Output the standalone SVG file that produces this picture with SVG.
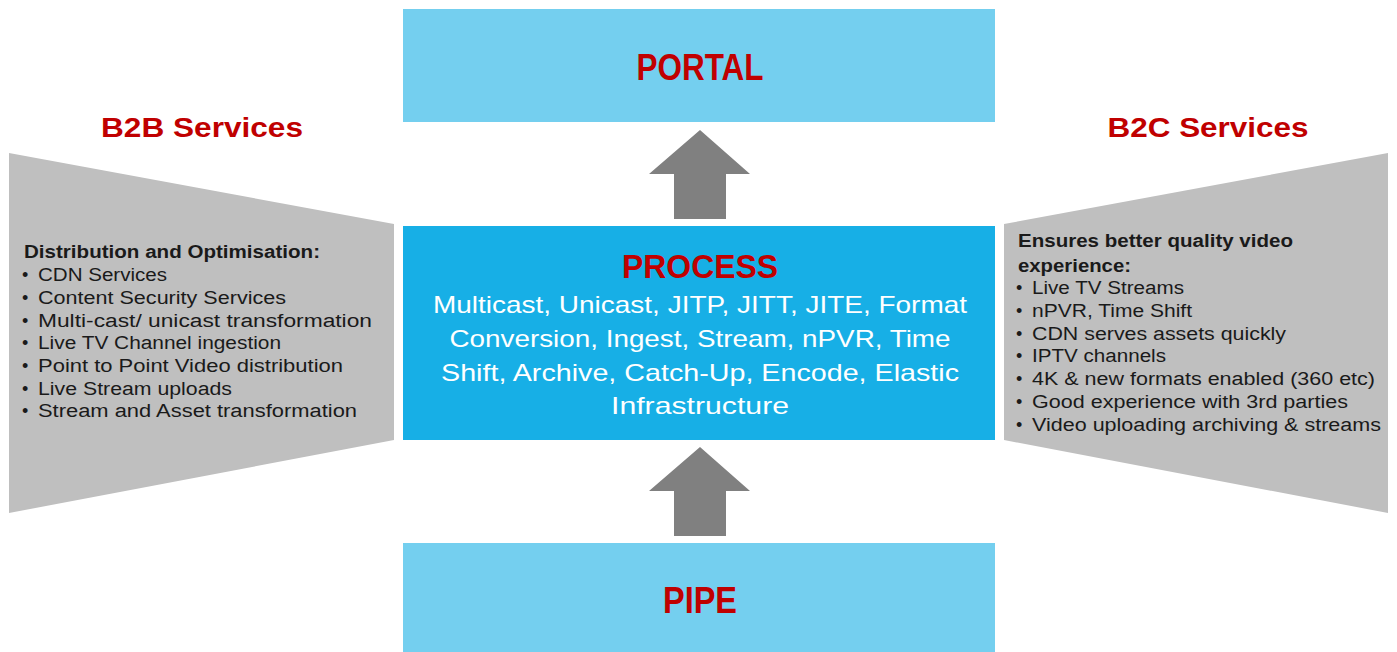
<svg xmlns="http://www.w3.org/2000/svg" width="1397" height="652" viewBox="0 0 1397 652">
<style>
.light{fill:#74CFEF}
.proc{fill:#17AFE6}
.side{fill:#BFBFBF}
.arrow{fill:#808080}
.title{font-family:"Liberation Sans",Arial,sans-serif;fill:#C00000;font-weight:bold;text-anchor:middle}
.head{font-family:"Liberation Sans",Arial,sans-serif;fill:#C00000;font-weight:bold;font-size:28px;text-anchor:middle}
.body{font-family:"Liberation Sans",Arial,sans-serif;fill:#FFFFFF;font-size:24px;text-anchor:middle}
.list{font-family:"Liberation Sans",Arial,sans-serif;fill:#1A1A1A;font-size:18px}
.bold{font-weight:bold}
</style>
<rect width="1397" height="652" fill="#FFFFFF"/>
<g id="b2b">
<polygon class="side" points="9,153 394,224 394,440 9,513"/>
<text class="head" x="202" y="137" textLength="202" lengthAdjust="spacingAndGlyphs">B2B Services</text>
<text class="list bold" x="24" y="258" textLength="296" lengthAdjust="spacingAndGlyphs">Distribution and Optimisation:</text>
<text class="list" x="22" y="281">•</text><text class="list" x="38" y="281" textLength="129" lengthAdjust="spacingAndGlyphs">CDN Services</text>
<text class="list" x="22" y="304">•</text><text class="list" x="38" y="304" textLength="248" lengthAdjust="spacingAndGlyphs">Content Security Services</text>
<text class="list" x="22" y="327">•</text><text class="list" x="38" y="327" textLength="334" lengthAdjust="spacingAndGlyphs">Multi-cast/ unicast transformation</text>
<text class="list" x="22" y="349">•</text><text class="list" x="38" y="349" textLength="243" lengthAdjust="spacingAndGlyphs">Live TV Channel ingestion</text>
<text class="list" x="22" y="372">•</text><text class="list" x="38" y="372" textLength="305" lengthAdjust="spacingAndGlyphs">Point to Point Video distribution</text>
<text class="list" x="22" y="395">•</text><text class="list" x="38" y="395" textLength="194" lengthAdjust="spacingAndGlyphs">Live Stream uploads</text>
<text class="list" x="22" y="417">•</text><text class="list" x="38" y="417" textLength="319" lengthAdjust="spacingAndGlyphs">Stream and Asset transformation</text>
</g>
<g id="b2c">
<polygon class="side" points="1004,224 1388,153 1388,513 1004,440"/>
<text class="head" x="1208" y="137" textLength="201" lengthAdjust="spacingAndGlyphs">B2C Services</text>
<text class="list bold" x="1018" y="247" textLength="275" lengthAdjust="spacingAndGlyphs">Ensures better quality video</text>
<text class="list bold" x="1018" y="272" textLength="113" lengthAdjust="spacingAndGlyphs">experience:</text>
<text class="list" x="1016" y="294">•</text><text class="list" x="1032" y="294" textLength="152" lengthAdjust="spacingAndGlyphs">Live TV Streams</text>
<text class="list" x="1016" y="317">•</text><text class="list" x="1032" y="317" textLength="160" lengthAdjust="spacingAndGlyphs">nPVR, Time Shift</text>
<text class="list" x="1016" y="340">•</text><text class="list" x="1032" y="340" textLength="254" lengthAdjust="spacingAndGlyphs">CDN serves assets quickly</text>
<text class="list" x="1016" y="362">•</text><text class="list" x="1032" y="362" textLength="134" lengthAdjust="spacingAndGlyphs">IPTV channels</text>
<text class="list" x="1016" y="385">•</text><text class="list" x="1032" y="385" textLength="343" lengthAdjust="spacingAndGlyphs">4K &amp; new formats enabled (360 etc)</text>
<text class="list" x="1016" y="408">•</text><text class="list" x="1032" y="408" textLength="316" lengthAdjust="spacingAndGlyphs">Good experience with 3rd parties</text>
<text class="list" x="1016" y="431">•</text><text class="list" x="1032" y="431" textLength="349" lengthAdjust="spacingAndGlyphs">Video uploading archiving &amp; streams</text>
</g>
<g id="portal">
<rect class="light" x="403" y="9" width="592" height="113"/>
<text class="title" x="700" y="80" font-size="36" textLength="127" lengthAdjust="spacingAndGlyphs">PORTAL</text>
</g>
<g id="process">
<rect class="proc" x="403" y="226" width="592" height="214"/>
<text class="title" x="700" y="278" font-size="34" textLength="156" lengthAdjust="spacingAndGlyphs">PROCESS</text>
<text class="body" x="700" y="313" textLength="534" lengthAdjust="spacingAndGlyphs">Multicast, Unicast, JITP, JITT, JITE, Format</text>
<text class="body" x="700" y="347" textLength="501" lengthAdjust="spacingAndGlyphs">Conversion, Ingest, Stream, nPVR, Time</text>
<text class="body" x="700" y="381" textLength="518" lengthAdjust="spacingAndGlyphs">Shift, Archive, Catch-Up, Encode, Elastic</text>
<text class="body" x="700" y="414" textLength="178" lengthAdjust="spacingAndGlyphs">Infrastructure</text>
</g>
<g id="pipe">
<rect class="light" x="403" y="543" width="592" height="109"/>
<text class="title" x="700" y="613" font-size="36" textLength="74" lengthAdjust="spacingAndGlyphs">PIPE</text>
</g>
<g id="connectors">
<polygon class="arrow" points="700,130 750,174 726,174 726,219 674,219 674,174 649,174"/>
<polygon class="arrow" points="700,447 750,491 726,491 726,536 674,536 674,491 649,491"/>
</g>
</svg>
